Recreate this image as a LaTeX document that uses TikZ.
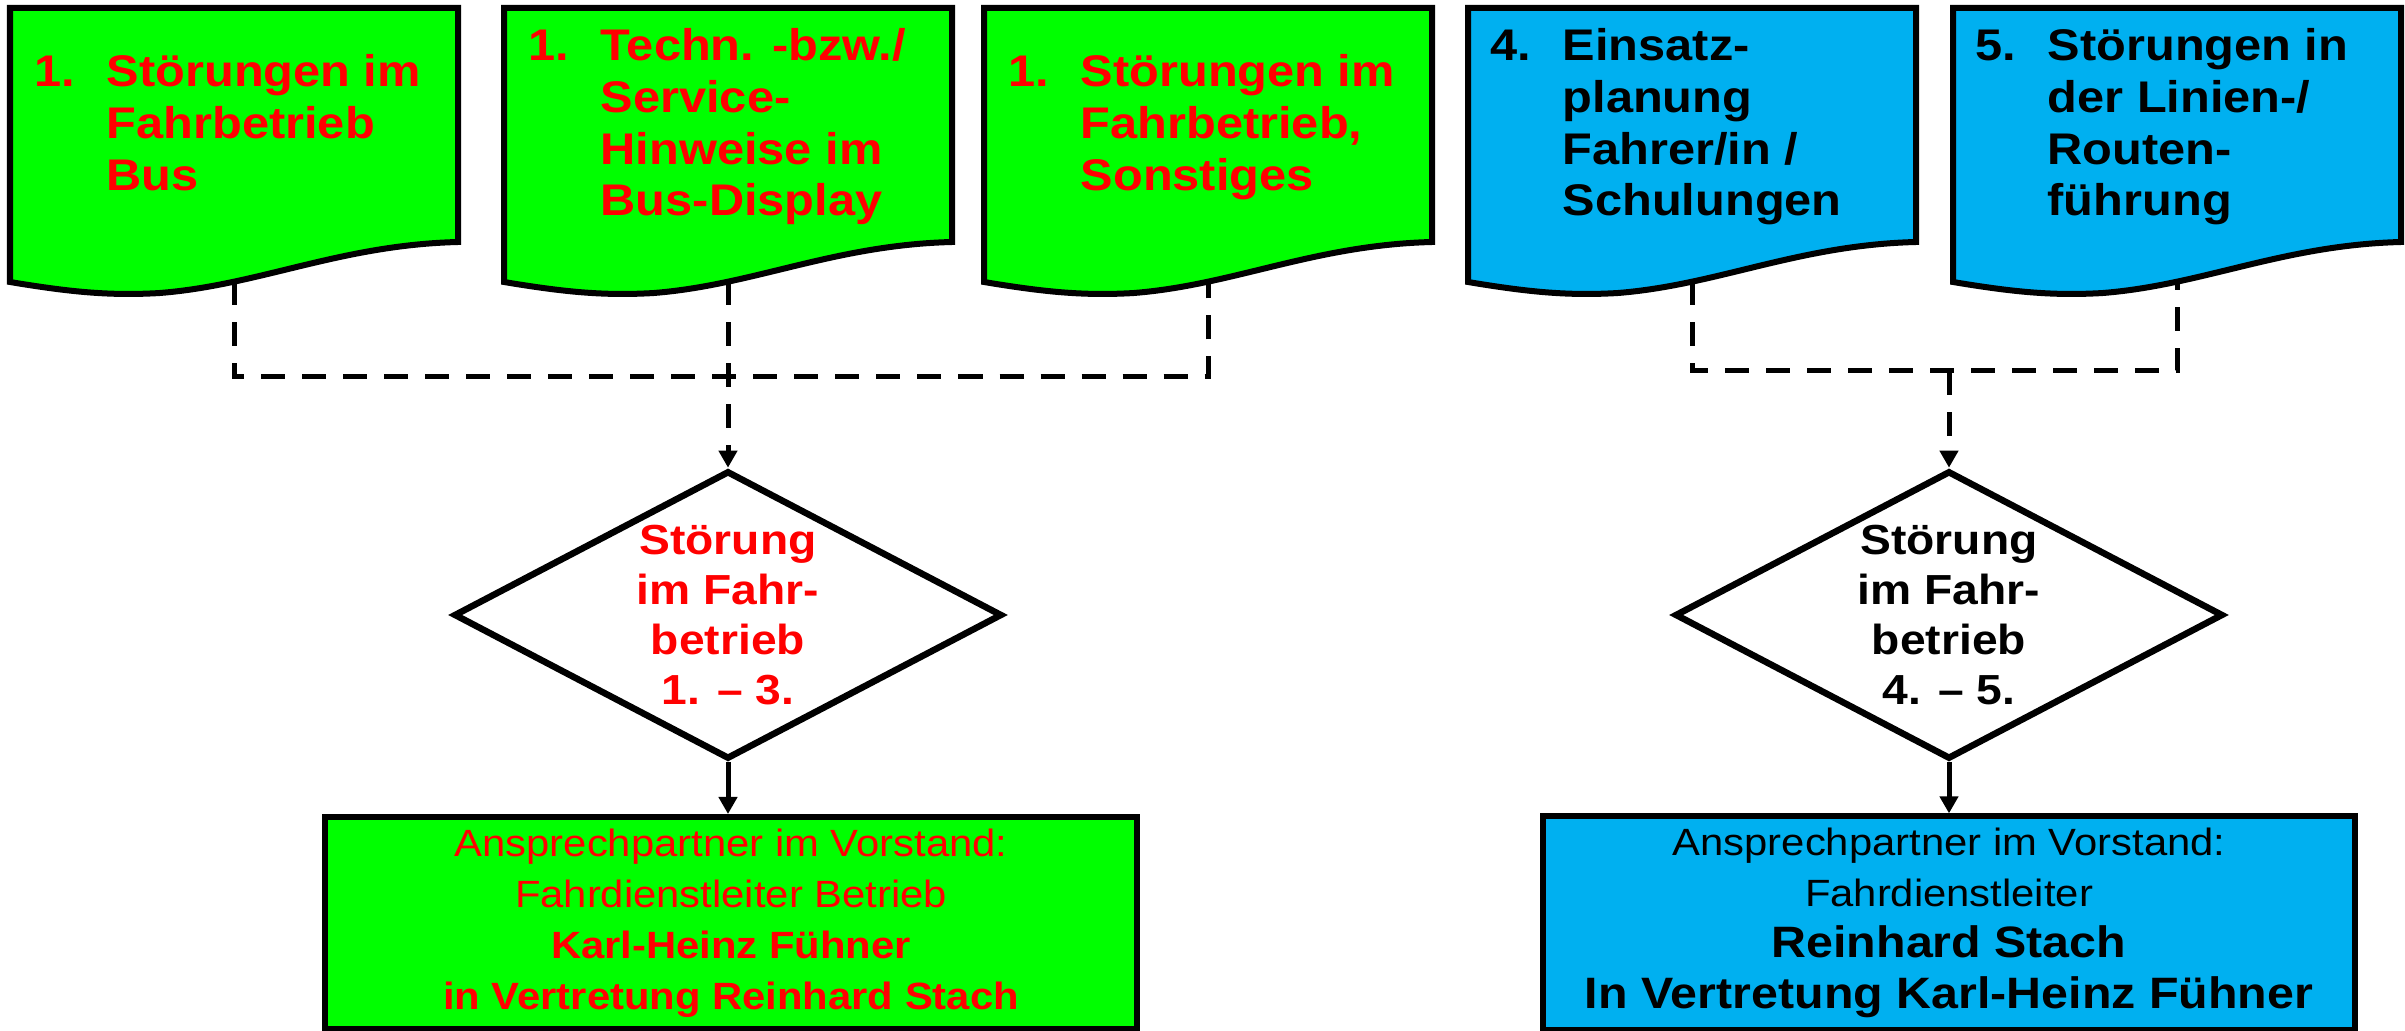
\documentclass[tikz,border=0pt]{standalone}
\usepackage{fontspec}
\setmainfont{Liberation Sans}[FakeStretch=1.1]
\usetikzlibrary{shapes.geometric,arrows.meta}
\definecolor{docgreen}{HTML}{00FF00}
\definecolor{docblue}{HTML}{00B0F0}
\definecolor{txtred}{HTML}{FF0000}
\tikzset{
  docshape/.style={draw=black,line width=0.06cm,line join=miter},
  doctext/.style={anchor=west,inner sep=0pt,font={\fontsize{12.6}{14.7}\selectfont\bfseries}},
  decision/.style={diamond,draw=black,fill=white,line width=0.065cm,inner sep=0pt,
    shape aspect=1.9,minimum width=5.48cm,minimum height=2.88cm,align=center,
    font={\fontsize{11.95}{14.2}\selectfont\bfseries}},
  contact/.style={rectangle,draw=black,line width=0.06cm,minimum width=8.11cm,
    minimum height=2.1cm,align=center,font={\fontsize{10.8}{14.5}\selectfont}},
  dashline/.style={line width=0.05cm,dash pattern=on 0.24cm off 0.17cm},
  solidline/.style={line width=0.05cm},
  tip/.style={-{Triangle[length=0.17cm,width=0.18cm]}}
}
\begin{document}
\begin{tikzpicture}[x=0.01cm,y=-0.01cm]
  \useasboundingbox (0,0) rectangle (2405,1031);
  % Belege oben
  \foreach \l/\c/\k in {10/docgreen/1, 504/docgreen/2, 984/docgreen/3, 1468/docblue/4, 1953/docblue/5}{%
    \filldraw[docshape,fill=\c] (\l,8) -- (\l+448,8) -- (\l+448,242)
      .. controls (\l+330,245) and (\l+250,285) .. (\l+150,293)
      .. controls (\l+100,296) and (\l+60,292) .. (\l,282) -- cycle;
    \coordinate (d\k) at (\l+224,281);
  }
  \node[doctext,text=txtred] (t1) at (34,128) {\begin{tabular}{@{}p{0.72cm}@{}l@{}}1.&Störungen im\\&Fahrbetrieb\\&Bus\end{tabular}};
  \node[doctext,text=txtred] (t2) at (528,128) {\begin{tabular}{@{}p{0.72cm}@{}l@{}}1.&Techn. -bzw./\\&Service-\\&Hinweise im\\&Bus-Display\end{tabular}};
  \node[doctext,text=txtred] (t3) at (1008,128) {\begin{tabular}{@{}p{0.72cm}@{}l@{}}1.&Störungen im\\&Fahrbetrieb,\\&Sonstiges\end{tabular}};
  \node[doctext] (t4) at (1490,128) {\begin{tabular}{@{}p{0.72cm}@{}l@{}}4.&Einsatz-\\&planung\\&Fahrer/in /\\&Schulungen\end{tabular}};
  \node[doctext] (t5) at (1975,128) {\begin{tabular}{@{}p{0.72cm}@{}l@{}}5.&Störungen in\\&der Linien-/\\&Routen-\\&führung\end{tabular}};
  % Entscheidung
  \node[decision,text=txtred] (s1) at (728,615) {Störung\\im Fahr-\\betrieb\\1. – 3.};
  \node[decision] (s2) at (1949,615) {Störung\\im Fahr-\\betrieb\\4. – 5.};
  % Ansprechpartner
  \node[contact,fill=docgreen,text=txtred] (a1) at (731,923) {Ansprechpartner im Vorstand:\\Fahrdienstleiter Betrieb\\\textbf{Karl-Heinz Fühner}\\\textbf{in Vertretung Reinhard Stach}};
  \node[contact,fill=docblue] (a2) at (1949,923) {Ansprechpartner im Vorstand:\\Fahrdienstleiter\\{\fontsize{12.5}{14.5}\selectfont\bfseries Reinhard Stach}\\{\fontsize{12.5}{14.5}\selectfont\bfseries In Vertretung Karl-Heinz Fühner}};
  % Verbindungen
  \coordinate (j1) at (728,377);
  \coordinate (j2) at (1949,371);
  \draw[dashline] (d1) |- (j1) -| (d3);
  \draw[dashline,tip] (d2) -- (s1.north);
  \draw[dashline] (d4) |- (j2) -| (d5);
  \draw[dashline,tip] (j2) -- (s2.north);
  \draw[solidline,tip] (s1.south) -- (s1.south |- a1.north);
  \draw[solidline,tip] (s2.south) -- (a2.north);
\end{tikzpicture}
\end{document}
